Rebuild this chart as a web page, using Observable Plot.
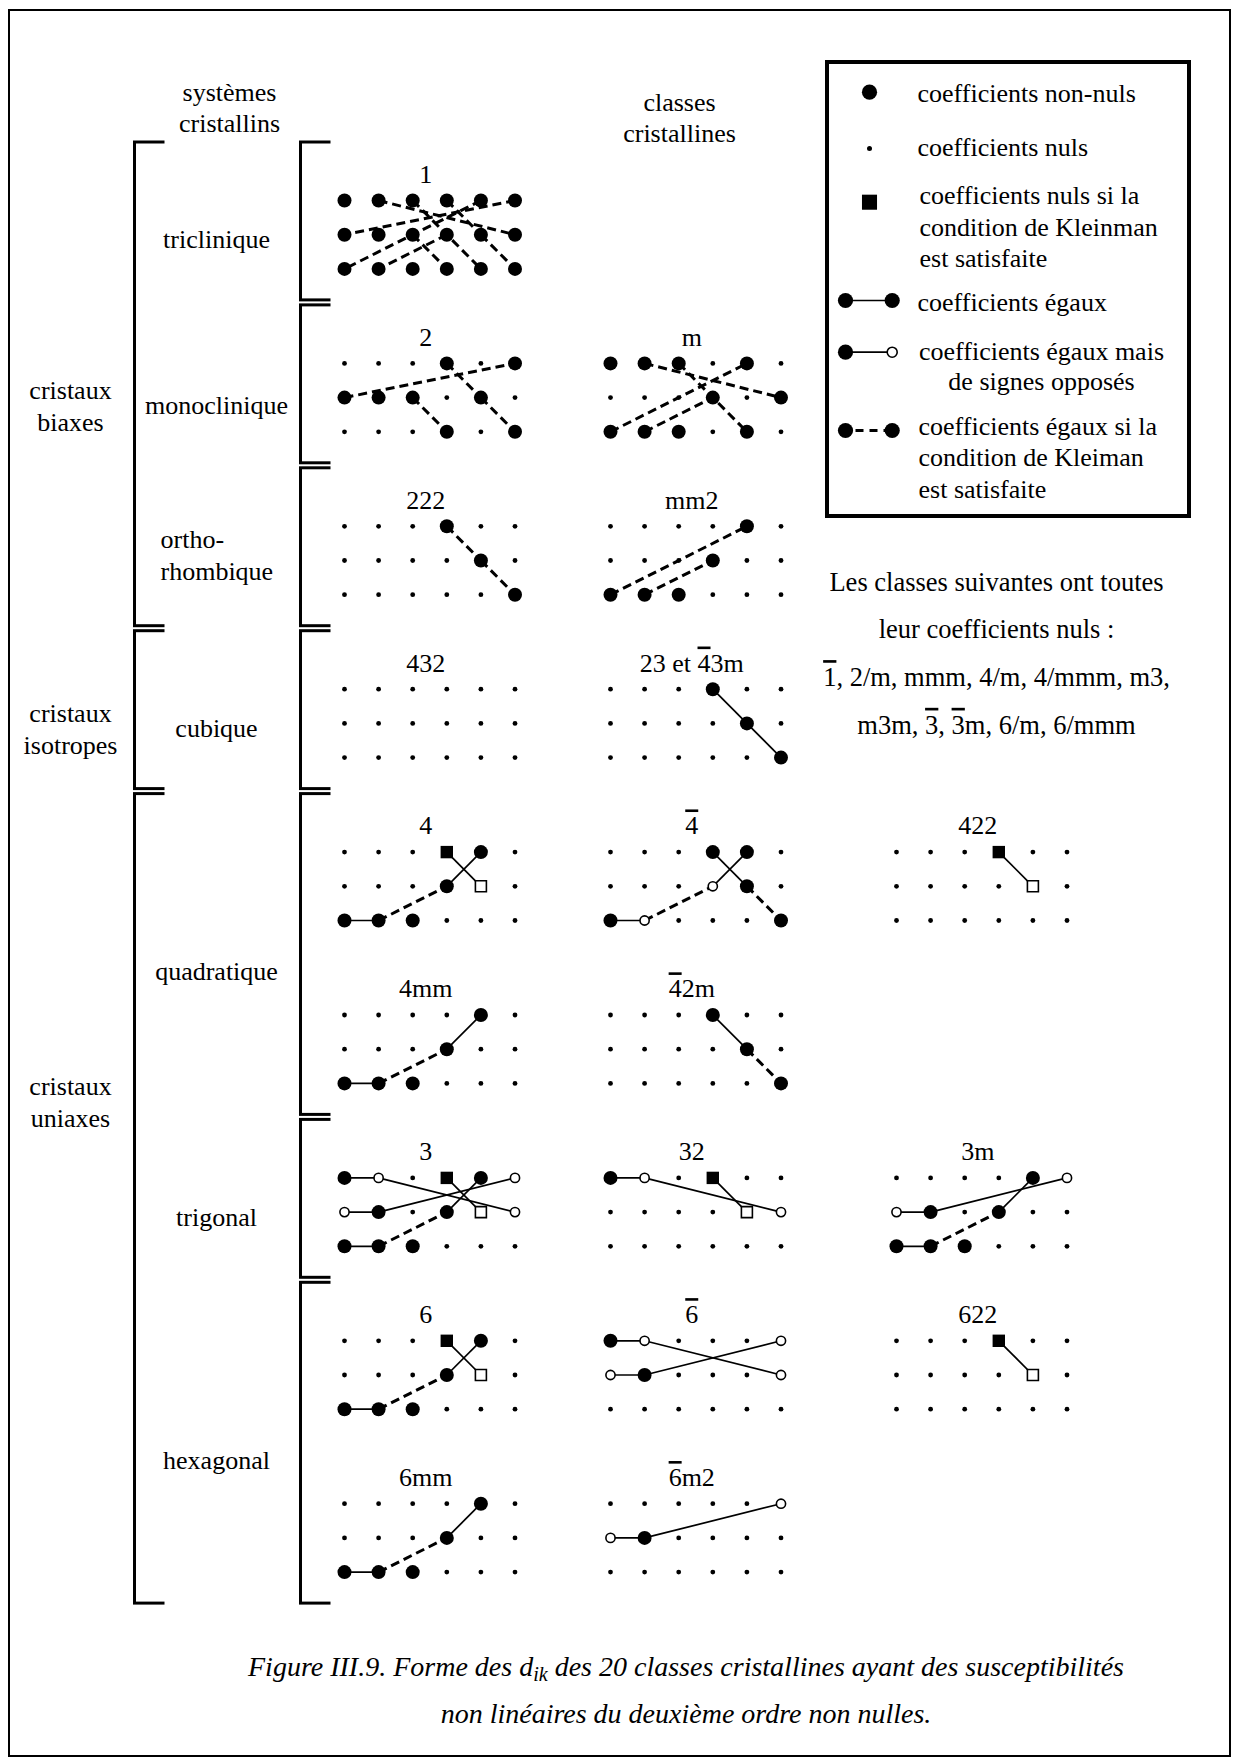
<!DOCTYPE html>
<html><head><meta charset="utf-8">
<script src="https://cdn.jsdelivr.net/npm/d3@7"></script>
<script src="https://cdn.jsdelivr.net/npm/@observablehq/plot@0.6"></script>
<style>
body{margin:0;background:#fff;}
#page{position:relative;width:1235px;height:1760px;overflow:hidden;background:#fff;font-family:"Liberation Serif","Times New Roman",serif;}
#frame{position:absolute;left:8px;top:9px;width:1223px;height:1748px;border:2px solid #000;box-sizing:border-box;}
#chart{position:absolute;left:0;top:0;}
#caption{position:absolute;left:140px;width:1092px;top:1643px;text-align:center;font-style:italic;font-size:28px;line-height:47px;color:#000;}
#caption sub{font-size:0.72em;line-height:0;vertical-align:-0.25em;}
</style></head><body>
<div id="page"><div id="frame"></div><div id="chart"></div>
<div id="caption">Figure III.9. Forme des d<sub>ik</sub> des 20 classes cristallines ayant des susceptibilités<br>non linéaires du deuxième ordre non nulles.</div></div>
<script>
// ---------- DATA ----------
// class names ({x} = overlined)
const panelTitles = ["1","2","m","222","mm2","432","23 et {4}3m","4","{4}","422","4mm","{4}2m","3","32","3m","6","{6}","622","6mm","{6}m2"];
// grid cell of each class: panel row and panel column
const panelRow = [0,1,1,2,2,3,3,4,4,4,5,5,6,6,6,7,7,7,8,8];
const panelCol = [0,0,1,0,1,0,1,0,1,2,0,1,0,1,2,0,1,2,0,1];
// d_ik matrices: N non-nul, . nul, K nul si Kleinman, k (carré ouvert), o signe opposé
const panelCells = [
  ["NNNNNN","NNNNNN","NNNNNN"],
  ["...N.N","NNN.N.","...N.N"],
  ["NNN.N.","...N.N","NNN.N."],
  ["...N..","....N.",".....N"],
  ["....N.","...N..","NNN..."],
  ["......","......","......"],
  ["...N..","....N.",".....N"],
  ["...KN.","...Nk.","NNN..."],
  ["...NN.","...oN.","No...N"],
  ["...K..","....k.","......"],
  ["....N.","...N..","NNN..."],
  ["...N..","....N.",".....N"],
  ["No.KNo","oN.Nko","NNN..."],
  ["No.K..","....ko","......"],
  ["....No","oN.N..","NNN..."],
  ["...KN.","...Nk.","NNN..."],
  ["No...o","oN...o","......"],
  ["...K..","....k.","......"],
  ["....N.","...N..","NNN..."],
  [".....o","oN....","......"]
];
// relations: "r1c1-r2c2" + s (égaux) / d (égaux si Kleinman)
const panelLinks = [
  ["12-26d","13-35d","14-25d","25-36d","15-31d","16-21d","23-34d","24-32d"],
  ["21-16d","14-25d","25-36d","23-34d"],
  ["12-26d","13-35d","31-15d","32-24d"],
  ["14-25d","25-36d"],
  ["31-15d","32-24d"],
  [],
  ["14-25s","25-36s"],
  ["14-25s","24-15s","32-24d","31-32s"],
  ["31-32s","32-24d","24-15s","14-25s","25-36d"],
  ["14-25s"],
  ["31-32s","32-24d","24-15s"],
  ["14-25s","25-36d"],
  ["11-12s","12-26s","21-22s","22-16s","14-25s","24-15s","32-24d","31-32s"],
  ["11-12s","12-26s","14-25s"],
  ["21-22s","22-16s","24-15s","32-24d","31-32s"],
  ["14-25s","24-15s","32-24d","31-32s"],
  ["11-12s","12-26s","21-22s","22-16s"],
  ["14-25s"],
  ["31-32s","32-24d","24-15s"],
  ["21-22s","22-16s"]
];
const systemNames = ["triclinique","monoclinique","ortho-\nrhombique","cubique","quadratique","trigonal","hexagonal"];
const systemFirst = [0,1,2,3,4,6,7];
const systemLast  = [0,1,2,3,5,6,8];
const familyNames = ["cristaux\nbiaxes","cristaux\nisotropes","cristaux\nuniaxes"];
const familyFirst = [0,3,4];
const familyLast  = [2,3,8];
const headers = ["systèmes\ncristallins","classes\ncristallines"];
const legendSymbols = ["N",".","K","N-N","N-o","N=N"];
const legendLabels = ["coefficients non-nuls","coefficients nuls","coefficients nuls si la\ncondition de Kleinman\nest satisfaite","coefficients égaux","coefficients égaux mais\nde signes opposés","coefficients égaux si la\ncondition de Kleiman\nest satisfaite"];
const zeroClassesLines = ["Les classes suivantes ont toutes","leur coefficients nuls :","{1}, 2/m, mmm, 4/m, 4/mmm, m3,","m3m, {3}, {3}m, 6/m, 6/mmm"];

// ---------- LAYOUT ----------
const W = 1235, H = 1640;
const GX = [344, 610, 896], DX = 34.1, Y0 = 200, PH = 162.9, DY = 34.2;
const px = (g, c) => GX[g] + (c - 1) * DX;
const py = (p, r) => Y0 + p * PH + (r - 1) * DY;
const bound = p => Y0 + p * PH - 61;
const FONT = "Liberation Serif";
const FS = 26;

// ---------- BUILD ----------
const cells = [];
panelCells.forEach((rows, i) => rows.forEach((s, r) => [...s].forEach((t, c) => cells.push({i, r: r + 1, c: c + 1, t}))));
const links = [];
panelLinks.forEach((ls, i) => ls.forEach(s => {
  const m = s.match(/(\d)(\d)-(\d)(\d)([sd])/);
  links.push({i, r1: +m[1], c1: +m[2], r2: +m[3], c2: +m[4], dash: m[5] === "d"});
}));
const CX = d => px(panelCol[d.i], d.c), CY = d => py(panelRow[d.i], d.r);
const L1 = d => px(panelCol[d.i], d.c1), LY1 = d => py(panelRow[d.i], d.r1);
const L2 = d => px(panelCol[d.i], d.c2), LY2 = d => py(panelRow[d.i], d.r2);
const panels = panelTitles.map((t, i) => ({i, t}));

function brackets(first, last, xv, xt) {
  const segs = [];
  first.forEach((f, k) => {
    const top = bound(f) + 2.5, bot = bound(last[k] + 1) - 2.5;
    segs.push({x1: xv, y1: top, x2: xv, y2: bot});
    segs.push({x1: xv - 1.5, y1: top, x2: xt, y2: top});
    segs.push({x1: xv - 1.5, y1: bot, x2: xt, y2: bot});
  });
  return segs;
}
const brk = [...brackets(familyFirst, familyLast, 134, 164), ...brackets(systemFirst, systemLast, 300, 330)];

// label layout
const systemLabelY = [237, 403, 553, 726, 969.5, 1215, 1458.6];
const familyLabelY = [404, 727, 1100];
const headerX = [229, 679], headerY = [106, 116];
// legend layout
const legSymY = [91.7, 148, 201.7, 300, 351.7, 430];
const legTextY = [91.7, 145, 225, 300, 365, 455.6];
const legTextX = [917, 917, 919, 917, 1041, 918];
const legCentered = [false, false, false, false, true, false];

const legDots = [], legLinks = [];
legendSymbols.forEach((s, k) => {
  const y = legSymY[k];
  if (s === "N") legDots.push({x: 869, y, t: "N"});
  else if (s === ".") legDots.push({x: 869, y, t: "."});
  else if (s === "K") legDots.push({x: 869, y, t: "K"});
  else {
    legLinks.push({x1: 845, x2: 891.7, y, dash: s[1] === "="});
    legDots.push({x: 845, y, t: "N"});
    legDots.push({x: 891.7, y, t: s[2]});
  }
});
const legItems = legendLabels.map((label, k) => ({label, x: legTextX[k], y: legTextY[k], mid: legCentered[k]}));

const lineSolid = {stroke: "black", strokeWidth: 1.7};
const lineDash = {stroke: "black", strokeWidth: 3, strokeDasharray: "9,5"};

const chart = Plot.plot({
  width: W, height: H, margin: 0,
  x: {type: "linear", domain: [0, W], range: [0, W], axis: null},
  y: {type: "linear", domain: [0, H], range: [0, H], axis: null},
  marks: [
    // brackets
    Plot.link(brk, {x1: "x1", y1: "y1", x2: "x2", y2: "y2", stroke: "black", strokeWidth: 3}),
    // relations
    Plot.link(links.filter(d => !d.dash), {x1: L1, y1: LY1, x2: L2, y2: LY2, ...lineSolid}),
    Plot.link(links.filter(d => d.dash), {x1: L1, y1: LY1, x2: L2, y2: LY2, ...lineDash}),
    // coefficients
    Plot.dot(cells.filter(d => d.t === "."), {x: CX, y: CY, r: 2.4, fill: "black", stroke: null}),
    Plot.dot(cells.filter(d => d.t === "N"), {x: CX, y: CY, r: 7, fill: "black", stroke: null}),
    Plot.dot(cells.filter(d => d.t === "o"), {x: CX, y: CY, r: 4.6, fill: "white", stroke: "black", strokeWidth: 1.6}),
    Plot.dot(cells.filter(d => d.t === "K"), {x: CX, y: CY, r: 7, symbol: "square", fill: "black", stroke: null}),
    Plot.dot(cells.filter(d => d.t === "k"), {x: CX, y: CY, r: 6.2, symbol: "square", fill: "white", stroke: "black", strokeWidth: 1.6}),
    // class titles
    Plot.text(panels, {x: d => GX[panelCol[d.i]] + 2.5 * DX - 4, y: d => py(panelRow[d.i], 1) - 26, text: "t", fontSize: FS, fontFamily: FONT}),
    // system + family labels
    Plot.text(systemNames, {x: 216, y: (d, k) => systemLabelY[k], text: d => d,
      textAnchor: "middle", fontSize: FS, fontFamily: FONT, lineHeight: 1.22, filter: (d, k) => k !== 2}),
    Plot.text([systemNames[2]], {x: 160, y: systemLabelY[2], text: d => d, textAnchor: "start", fontSize: FS, fontFamily: FONT, lineHeight: 1.22}),
    Plot.text(familyNames, {x: 70, y: (d, k) => familyLabelY[k], text: d => d, fontSize: FS, fontFamily: FONT, lineHeight: 1.22}),
    Plot.text(headers, {x: (d, k) => headerX[k], y: (d, k) => headerY[k], text: d => d, fontSize: FS, fontFamily: FONT, lineHeight: 1.2}),
    // legend
    Plot.rect([0], {x1: 827, x2: 1189, y1: 62, y2: 516, fill: "none", stroke: "black", strokeWidth: 4}),
    Plot.link(legLinks.filter(d => !d.dash), {x1: "x1", x2: "x2", y1: "y", y2: "y", ...lineSolid}),
    Plot.link(legLinks.filter(d => d.dash), {x1: "x1", x2: "x2", y1: "y", y2: "y", stroke: "black", strokeWidth: 3, strokeDasharray: "8,6", strokeDashoffset: -10}),
    Plot.dot(legDots.filter(d => d.t === "N"), {x: "x", y: "y", r: 7.6, fill: "black", stroke: null}),
    Plot.dot(legDots.filter(d => d.t === "."), {x: "x", y: "y", r: 2.5, fill: "black", stroke: null}),
    Plot.dot(legDots.filter(d => d.t === "o"), {x: "x", y: "y", r: 5, fill: "white", stroke: "black", strokeWidth: 1.6}),
    Plot.dot(legDots.filter(d => d.t === "K"), {x: "x", y: "y", r: 8.5, symbol: "square", fill: "black", stroke: null}),
    Plot.text(legItems.filter(d => !d.mid), {x: "x", y: "y", text: "label", textAnchor: "start", fontSize: FS, fontFamily: FONT, lineHeight: 1.21}),
    Plot.text(legItems.filter(d => d.mid), {x: "x", y: "y", text: "label", textAnchor: "middle", fontSize: FS, fontFamily: FONT, lineHeight: 1.17}),
    // zero-coefficient classes note
    Plot.text([zeroClassesLines.join("\n")], {x: 996, y: 646.5, text: d => d, fontSize: 26.5, fontFamily: FONT, lineHeight: 1.8})
  ]
});

document.getElementById("chart").appendChild(chart);

function applyOverbars(svg) {
  const walker = document.createTreeWalker(svg, NodeFilter.SHOW_TEXT);
  const nodes = [];
  while (walker.nextNode()) if (walker.currentNode.nodeValue.includes("{")) nodes.push(walker.currentNode);
  for (const n of nodes) {
    const parts = n.nodeValue.split(/(\{[^}]*\})/);
    const frag = document.createDocumentFragment();
    for (const p of parts) {
      if (!p) continue;
      if (p[0] === "{") {
        const t = document.createElementNS("http://www.w3.org/2000/svg", "tspan");
        t.setAttribute("text-decoration", "overline");
        t.style.textDecoration = "overline";
        t.textContent = p.slice(1, -1);
        frag.appendChild(t);
      } else frag.appendChild(document.createTextNode(p));
    }
    n.parentNode.replaceChild(frag, n);
  }
}
applyOverbars(chart);
</script>
</body></html>
